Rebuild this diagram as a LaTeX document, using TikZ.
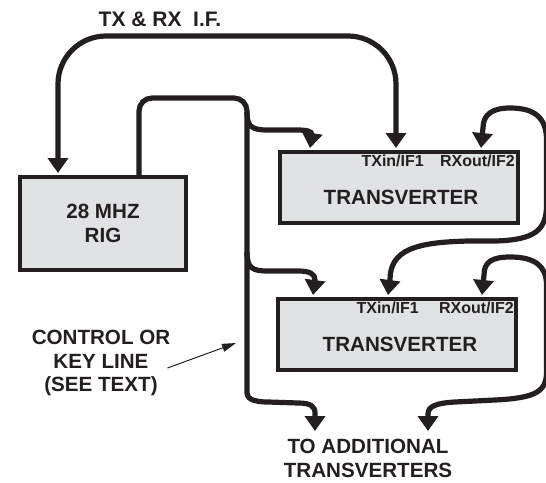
\documentclass[tikz,border=0pt]{standalone}
\usepackage{fontspec}
\setmainfont{Liberation Sans}
\usetikzlibrary{arrows.meta,calc}
\definecolor{boxgray}{RGB}{225,226,228}
\definecolor{ink}{RGB}{35,31,32}
\begin{document}
\begin{tikzpicture}[x=1pt,y=-1pt,
  box/.style={draw=ink,line width=4pt,fill=boxgray,inner sep=0pt},
  wire/.style={draw=ink,line width=5.2pt},
  tipend/.style={-{Triangle[width=20pt,length=15pt]}},
  tipboth/.style={{Triangle[width=20pt,length=15pt]}-{Triangle[width=20pt,length=15pt]}},
  txt/.style={font=\fontsize{20.6}{24}\selectfont\bfseries,text=ink,align=center,inner sep=0pt},
  porttxt/.style={font=\fontsize{16}{18}\selectfont\bfseries,text=ink,inner sep=0pt,anchor=east},
  annarrow/.style={draw=ink,line width=1pt,-{Triangle[width=8pt,length=14pt]}},
]
\useasboundingbox (0,0) rectangle (546,482);
\clip (0,0) rectangle (546,482);

% boxes
\node[box,minimum width=166pt,minimum height=93pt,txt] (rig) at (103,223.5) {28 MHZ\\RIG};
\node[box,minimum width=238pt,minimum height=71pt] (tv1) at (399,187.5) {};
\node[box,minimum width=238pt,minimum height=71pt] (tv2) at (397,334.5) {};

% box labels
\node[txt] (tv1name) at ([shift={(2,9.5)}]tv1.center) {TRANSVERTER};
\node[txt] (tv2name) at ([shift={(3,9.5)}]tv2.center) {TRANSVERTER};
\node[porttxt] (tv1rxl) at ([shift={(-5,11)}]tv1.north east) {RXout/IF2};
\node[porttxt] (tv1txl) at ([shift={(-96,11)}]tv1.north east) {TXin/IF1};
\node[porttxt] (tv2rxl) at ([shift={(-4,11)}]tv2.north east) {RXout/IF2};
\node[porttxt] (tv2txl) at ([shift={(-99,11)}]tv2.north east) {TXin/IF1};

% free texts
\node[txt,font=\fontsize{21}{24}\selectfont\bfseries] (iflabel) at (160,19) {TX \& RX\ \ I.F.};
\node[txt,font=\fontsize{20.6}{23.5}\selectfont\bfseries] (ann) at (101,363) {CONTROL OR\\KEY LINE\\(SEE TEXT)};
\node[txt] (more) at (368,458.5) {TO ADDITIONAL\\TRANSVERTERS};

% ports
\coordinate (rigA) at ([shift={(40,-2)}]rig.north west);
\coordinate (rigB) at ([shift={(121,0)}]rig.north west);
\coordinate (tv1ctl) at ([shift={(32,-2)}]tv1.north west);
\coordinate (tv1tx) at ([shift={(118,-2)}]tv1.north west);
\coordinate (tv1rx) at ([shift={(203,-2)}]tv1.north west);
\coordinate (tv2ctl) at ([shift={(37,-2)}]tv2.north west);
\coordinate (tv2tx) at ([shift={(112,-2)}]tv2.north west);
\coordinate (tv2rx) at ([shift={(206,-2)}]tv2.north west);
\coordinate (out1) at (315,431);
\coordinate (out2) at (428,431);
\coordinate (annS) at ([shift={(-3,5)}]ann.east);
\coordinate (annE) at (236,343);

% TX & RX IF
\draw[wire,tipboth,rounded corners=48pt] (rigA) |- (230,36) -| (tv1tx);

% control / key line trunk
\draw[wire,tipend,rounded corners=13pt] (rigB) |- (247,98) -- (247,380)
  [sharp corners] .. controls (247,398) and (252,402) .. (268,402) -- (298,403)
  .. controls (310,403) and (315,406) .. (315,413) -- (out1);
% branch to transverter 1
\draw[wire,tipend] (247,112) .. controls (247,127) and (252,130) .. (268,130) -- (296,130)
  .. controls (307,130) and (312,131) .. (312,135) -- (tv1ctl);
% branch to transverter 2
\draw[wire,tipend] (247,252) .. controls (247,268) and (252,271) .. (268,271) -- (298,271)
  .. controls (310,271) and (315,274) .. (315,280) -- (tv2ctl);

% loop RXout1 -> TXin2
\draw[wire,tipboth] (tv1rx) -- (483,128) .. controls (483,114) and (493,108) .. (510,108)
  .. controls (535,108) and (546.5,118) .. (546.5,140) -- (546.5,205)
  .. controls (546.5,230) and (535,240) .. (495,241) -- (470,241)
  .. controls (415,242) and (390,250) .. (390,280) -- (tv2tx);

% loop RXout2 -> additional
\draw[wire,tipboth] (tv2rx) -- (484,275) .. controls (484,262) and (492,257) .. (510,257)
  .. controls (535,257) and (546.5,266) .. (546.5,285) -- (546.5,372)
  .. controls (546.5,392) and (535,398) .. (495,400) -- (455,402)
  .. controls (437,403) and (428,406) .. (428,414) -- (out2);

% annotation arrow
\draw[annarrow] (annS) -- (annE);
\end{tikzpicture}
\end{document}
